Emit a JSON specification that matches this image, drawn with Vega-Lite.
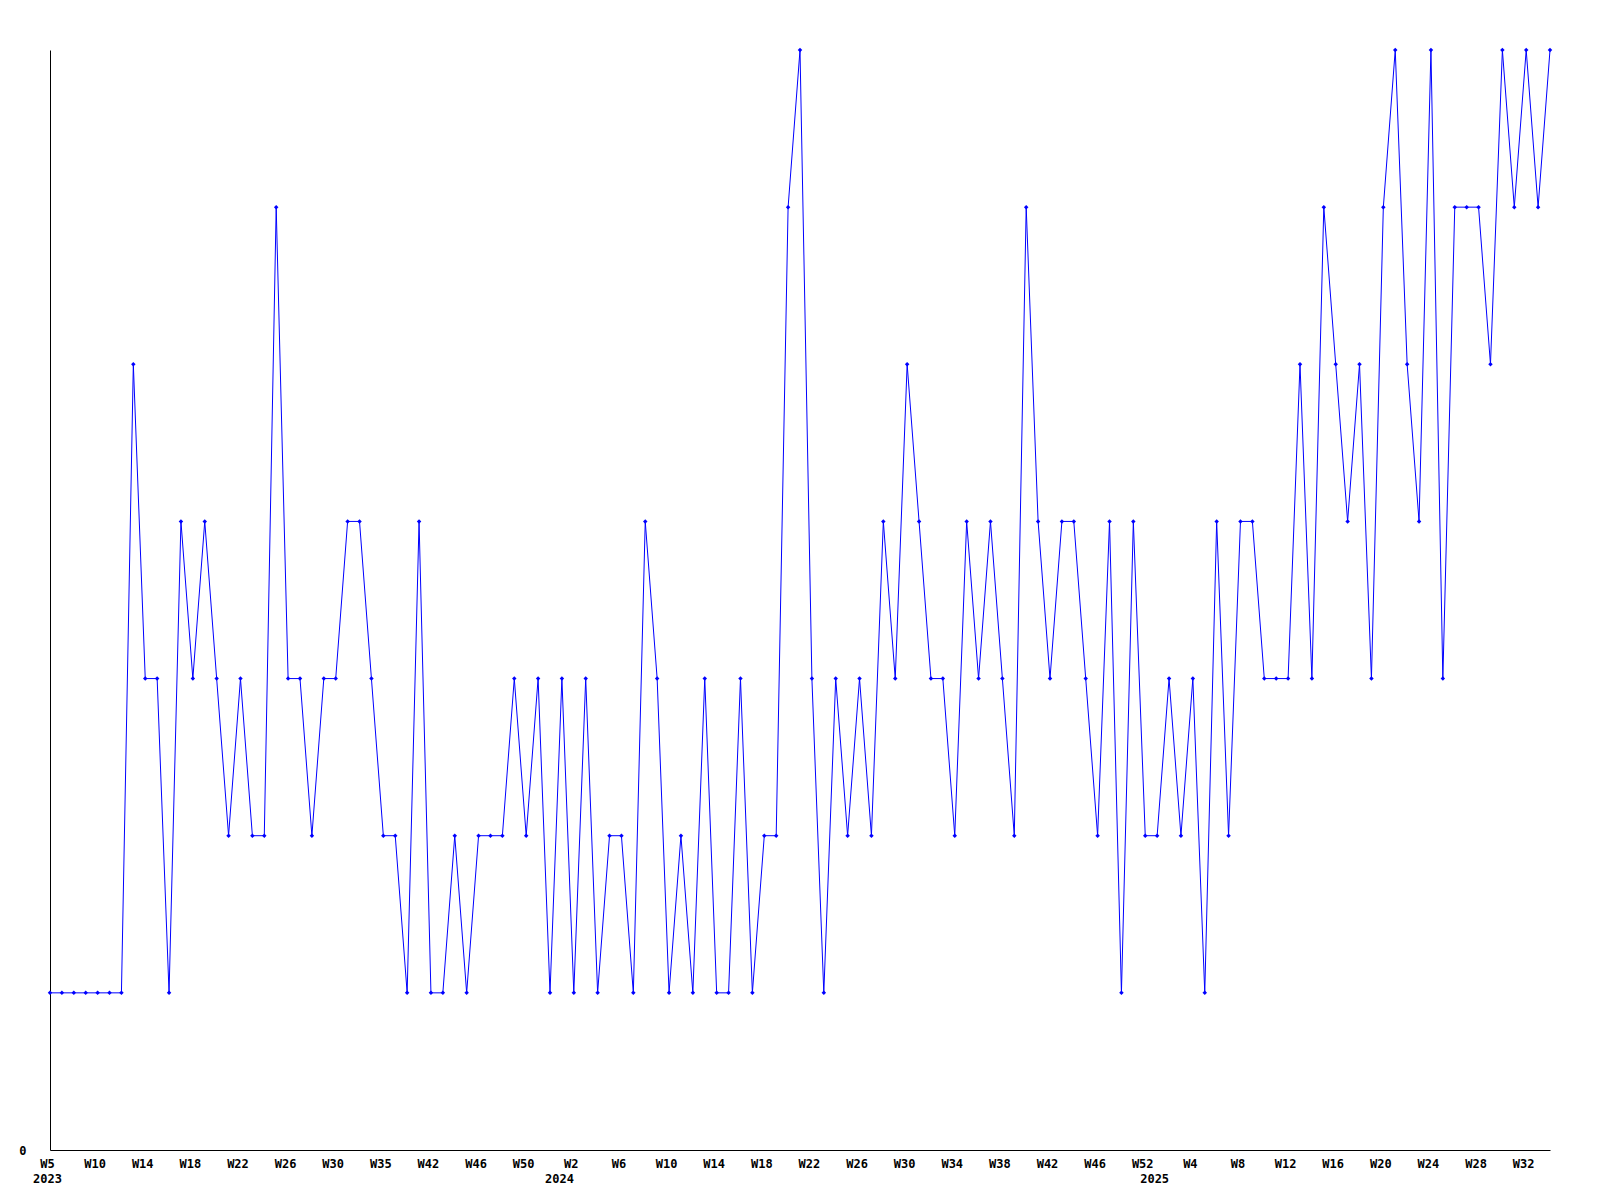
{
  "$schema": "https://vega.github.io/schema/vega-lite/v6.json",
  "autosize": {"type": "none"},
  "padding": {"left": 50, "top": 50, "right": 50, "bottom": 50},
  "width": 1500,
  "height": 1100,
  "background": "#ffffff",
  "config": {"view": {"stroke": null}},
  "data": {"values": [
    {"week": "2023-W05", "v": 1}, {"week": "2023-W06", "v": 1}, {"week": "2023-W07", "v": 1}, {"week": "2023-W08", "v": 1},
    {"week": "2023-W10", "v": 1}, {"week": "2023-W11", "v": 1}, {"week": "2023-W12", "v": 1}, {"week": "2023-W13", "v": 5},
    {"week": "2023-W14", "v": 3}, {"week": "2023-W15", "v": 3}, {"week": "2023-W16", "v": 1}, {"week": "2023-W17", "v": 4},
    {"week": "2023-W18", "v": 3}, {"week": "2023-W19", "v": 4}, {"week": "2023-W20", "v": 3}, {"week": "2023-W21", "v": 2},
    {"week": "2023-W22", "v": 3}, {"week": "2023-W23", "v": 2}, {"week": "2023-W24", "v": 2}, {"week": "2023-W25", "v": 6},
    {"week": "2023-W26", "v": 3}, {"week": "2023-W27", "v": 3}, {"week": "2023-W28", "v": 2}, {"week": "2023-W29", "v": 3},
    {"week": "2023-W30", "v": 3}, {"week": "2023-W31", "v": 4}, {"week": "2023-W32", "v": 4}, {"week": "2023-W33", "v": 3},
    {"week": "2023-W35", "v": 2}, {"week": "2023-W37", "v": 2}, {"week": "2023-W39", "v": 1}, {"week": "2023-W40", "v": 4},
    {"week": "2023-W42", "v": 1}, {"week": "2023-W43", "v": 1}, {"week": "2023-W44", "v": 2}, {"week": "2023-W45", "v": 1},
    {"week": "2023-W46", "v": 2}, {"week": "2023-W47", "v": 2}, {"week": "2023-W48", "v": 2}, {"week": "2023-W49", "v": 3},
    {"week": "2023-W50", "v": 2}, {"week": "2023-W51", "v": 3}, {"week": "2023-W52", "v": 1},
    {"week": "2024-W01", "v": 3}, {"week": "2024-W02", "v": 1}, {"week": "2024-W03", "v": 3}, {"week": "2024-W04", "v": 1},
    {"week": "2024-W05", "v": 2}, {"week": "2024-W06", "v": 2}, {"week": "2024-W07", "v": 1}, {"week": "2024-W08", "v": 4},
    {"week": "2024-W09", "v": 3}, {"week": "2024-W10", "v": 1}, {"week": "2024-W11", "v": 2}, {"week": "2024-W12", "v": 1},
    {"week": "2024-W13", "v": 3}, {"week": "2024-W14", "v": 1}, {"week": "2024-W15", "v": 1}, {"week": "2024-W16", "v": 3},
    {"week": "2024-W17", "v": 1}, {"week": "2024-W18", "v": 2}, {"week": "2024-W19", "v": 2}, {"week": "2024-W20", "v": 6},
    {"week": "2024-W21", "v": 7}, {"week": "2024-W22", "v": 3}, {"week": "2024-W23", "v": 1}, {"week": "2024-W24", "v": 3},
    {"week": "2024-W25", "v": 2}, {"week": "2024-W26", "v": 3}, {"week": "2024-W27", "v": 2}, {"week": "2024-W28", "v": 4},
    {"week": "2024-W29", "v": 3}, {"week": "2024-W30", "v": 5}, {"week": "2024-W31", "v": 4}, {"week": "2024-W32", "v": 3},
    {"week": "2024-W33", "v": 3}, {"week": "2024-W34", "v": 2}, {"week": "2024-W35", "v": 4}, {"week": "2024-W36", "v": 3},
    {"week": "2024-W37", "v": 4}, {"week": "2024-W38", "v": 3}, {"week": "2024-W39", "v": 2}, {"week": "2024-W40", "v": 6},
    {"week": "2024-W41", "v": 4}, {"week": "2024-W42", "v": 3}, {"week": "2024-W43", "v": 4}, {"week": "2024-W44", "v": 4},
    {"week": "2024-W45", "v": 3}, {"week": "2024-W46", "v": 2}, {"week": "2024-W47", "v": 4}, {"week": "2024-W48", "v": 1},
    {"week": "2024-W50", "v": 4}, {"week": "2024-W52", "v": 2},
    {"week": "2025-W01", "v": 2}, {"week": "2025-W02", "v": 3}, {"week": "2025-W03", "v": 2}, {"week": "2025-W04", "v": 3},
    {"week": "2025-W05", "v": 1}, {"week": "2025-W06", "v": 4}, {"week": "2025-W07", "v": 2}, {"week": "2025-W08", "v": 4},
    {"week": "2025-W09", "v": 4}, {"week": "2025-W10", "v": 3}, {"week": "2025-W11", "v": 3}, {"week": "2025-W12", "v": 3},
    {"week": "2025-W13", "v": 5}, {"week": "2025-W14", "v": 3}, {"week": "2025-W15", "v": 6}, {"week": "2025-W16", "v": 5},
    {"week": "2025-W17", "v": 4}, {"week": "2025-W18", "v": 5}, {"week": "2025-W19", "v": 3}, {"week": "2025-W20", "v": 6},
    {"week": "2025-W21", "v": 7}, {"week": "2025-W22", "v": 5}, {"week": "2025-W23", "v": 4}, {"week": "2025-W24", "v": 7},
    {"week": "2025-W25", "v": 3}, {"week": "2025-W26", "v": 6}, {"week": "2025-W27", "v": 6}, {"week": "2025-W28", "v": 6},
    {"week": "2025-W29", "v": 5}, {"week": "2025-W30", "v": 7}, {"week": "2025-W31", "v": 6}, {"week": "2025-W32", "v": 7},
    {"week": "2025-W33", "v": 6}, {"week": "2025-W34", "v": 7}
  ]},
  "mark": {
    "type": "line",
    "color": "#0000ff",
    "strokeWidth": 1,
    "point": {"shape": "diamond", "size": 20, "filled": true, "color": "#0000ff"}
  },
  "encoding": {
    "x": {
      "field": "week",
      "type": "nominal",
      "sort": null,
      "scale": {"type": "point", "padding": 0},
      "axis": {
        "title": null,
        "ticks": false,
        "grid": false,
        "domainColor": "#000000",
        "domainWidth": 1,
        "labelAngle": 0,
        "labelBaseline": "top",
        "labelPadding": 8,
        "labelOffset": -3,
        "labelOverlap": false,
        "labelBound": false,
        "labelFlush": false,
        "labelFont": "DejaVu Sans Mono",
        "labelFontWeight": "bold",
        "labelFontSize": 12,
        "labelColor": "#000000",
        "labelLineHeight": 15,
        "values": ["2023-W05", "2023-W10", "2023-W14", "2023-W18", "2023-W22", "2023-W26", "2023-W30", "2023-W35", "2023-W42", "2023-W46", "2023-W50", "2024-W01", "2024-W02", "2024-W06", "2024-W10", "2024-W14", "2024-W18", "2024-W22", "2024-W26", "2024-W30", "2024-W34", "2024-W38", "2024-W42", "2024-W46", "2024-W52", "2025-W01", "2025-W04", "2025-W08", "2025-W12", "2025-W16", "2025-W20", "2025-W24", "2025-W28", "2025-W32"],
        "labelExpr": "datum.value == '2023-W05' ? ['W5', '2023'] : (datum.value == '2024-W01' || datum.value == '2025-W01') ? ['', substring(datum.value, 0, 4)] : 'W' + parseInt(substring(datum.value, 6))"
      }
    },
    "y": {
      "field": "v",
      "type": "quantitative",
      "scale": {"domain": [0, 7], "nice": false, "zero": true},
      "axis": {
        "title": null,
        "ticks": false,
        "grid": false,
        "values": [0],
        "domainColor": "#000000",
        "domainWidth": 1,
        "labelPadding": 24,
        "labelFont": "DejaVu Sans Mono",
        "labelFontWeight": "bold",
        "labelFontSize": 12,
        "labelColor": "#000000"
      }
    }
  }
}
